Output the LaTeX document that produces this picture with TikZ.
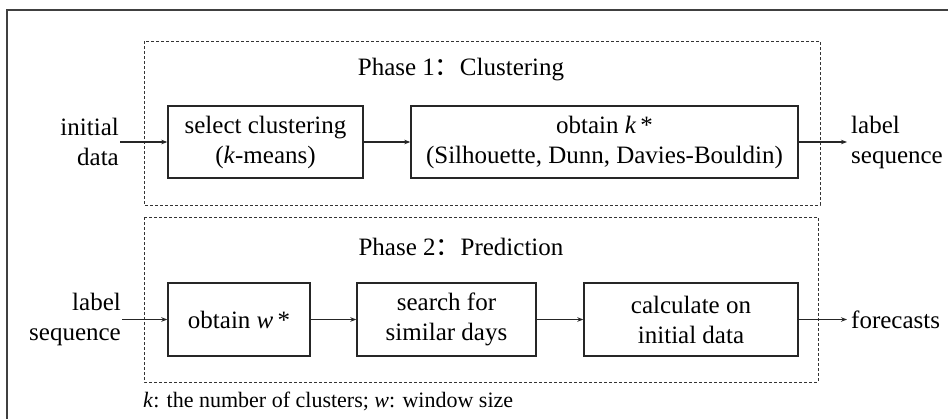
\documentclass[tikz,border=0pt]{standalone}
\usepackage{fontspec}
\setmainfont{Liberation Serif}
\newfontfamily\cjk{Noto Sans CJK SC}
\usetikzlibrary{arrows.meta}
\begin{document}
\begin{tikzpicture}[x=1pt,y=-1pt,
  txt/.style={inner sep=1pt,font=\fontsize{25}{30}\selectfont,align=center},
  procbox/.style={draw=black!85,line width=1.4pt,minimum height=72pt,inner sep=2pt,font=\fontsize{25}{30}\selectfont,align=center},
  phasebox/.style={draw=black!80,line width=1pt,dash pattern=on 3pt off 2pt},
  flow/.style={line width=1.2pt,draw=black!85,-{Stealth[length=6pt,width=4.5pt]}}]
\useasboundingbox (0,0) rectangle (948,418);
\fill[white] (0,0) rectangle (948,418);
\begin{scope}
\clip (0,0) rectangle (948,418);
\draw[black!75,line width=2pt] (7,10) rectangle (970,440);
\end{scope}
% phase boxes
\draw[phasebox] (144,41) rectangle (820,205);
\draw[phasebox] (144,217) rectangle (818,382);
\node[txt] (ph1) at (461,70) {Phase 1{\cjk ：}Clustering};
\node[txt] (ph2) at (461,247) {Phase 2{\cjk ：}Prediction};
% phase 1
\node[procbox,minimum width=195pt] (sel) at (265.5,142) {select clustering\\(\textit{k}-means)};
\node[procbox,minimum width=387pt] (obk) at (604.5,142) {obtain \textit{k}\,*\\(Silhouette, Dunn, Davies-Bouldin)};
\node[txt,anchor=east,align=right] (init) at (120,142) {initial\\data};
\node[txt,anchor=west,align=left,inner xsep=4pt] (lab1) at (847,142) {label\\sequence};
\draw[flow] (init.east) -- (sel.west);
\draw[flow] (sel.east) -- (obk.west);
\draw[flow] (obk.east) -- (lab1.west);
% phase 2
\node[procbox,minimum width=142pt,minimum height=73pt] (obw) at (239,319.5) {obtain \textit{w}\,*};
\node[procbox,minimum width=179pt,minimum height=73pt] (srch) at (446.5,319.5) {search for\\similar days};
\node[procbox,minimum width=214pt,minimum height=73pt] (calc) at (691,319.5) {calculate on\\initial data};
\node[txt,anchor=east,align=right] (lab2) at (122,319.5) {label\\sequence};
\node[txt,anchor=west,inner xsep=4pt] (fc) at (847,319.5) {forecasts};
\draw[flow] (lab2.east) -- (obw.west);
\draw[flow] (obw.east) -- (srch.west);
\draw[flow] (srch.east) -- (calc.west);
\draw[flow] (calc.east) -- (fc.west);
% footnote
\node[inner sep=0pt,anchor=west,font=\fontsize{22}{26}\selectfont] (note) at (143,401) {\textit{k}: the number of clusters; \textit{w}: window size};
\end{tikzpicture}
\end{document}
